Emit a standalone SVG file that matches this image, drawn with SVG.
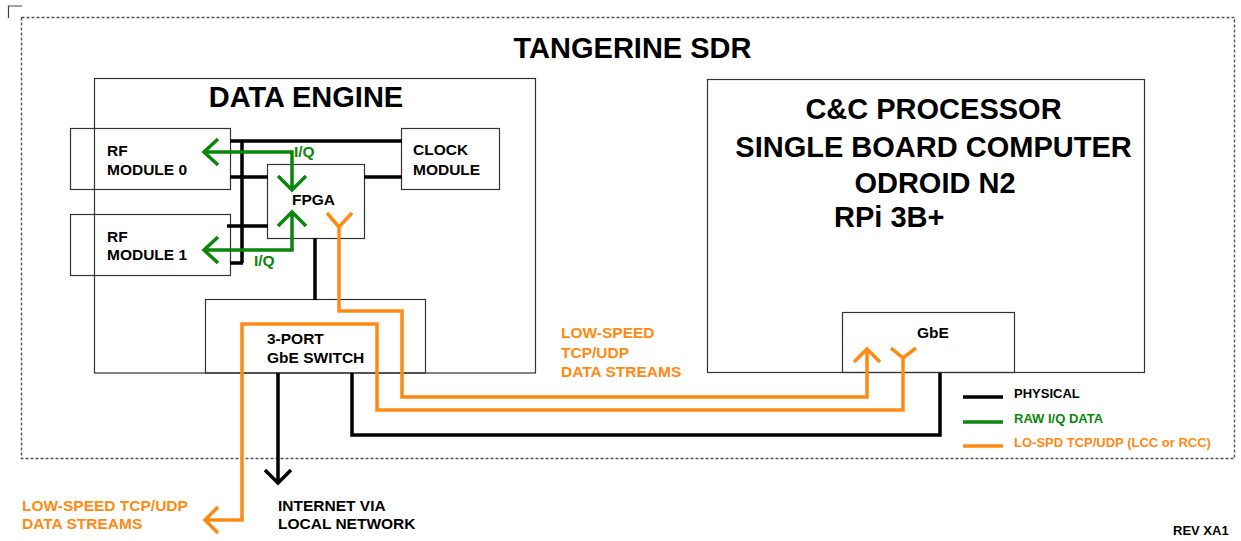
<svg xmlns="http://www.w3.org/2000/svg" width="1241" height="541" viewBox="0 0 1241 541">
<style>
text{font-family:"Liberation Sans",Arial,sans-serif;font-weight:bold;fill:#000}
.t29{font-size:29px}
.t15{font-size:15.5px}
.t13{font-size:13px}
.box{fill:none;stroke:#333;stroke-width:1.2}
.blk{fill:none;stroke:#000;stroke-width:3.5}
.grn{fill:none;stroke:#0a870a;stroke-width:3.5}
.org{fill:none;stroke:#ff8a12;stroke-width:3.5}
.gt{fill:#0a870a}
.ot{fill:#ff8a12}
</style>
<rect width="1241" height="541" fill="#fff"/>
<path d="M8.5,18 V6 H22" fill="none" stroke="#444" stroke-width="1.2"/>
<rect x="21.5" y="17.5" width="1213" height="441" fill="none" stroke="#555" stroke-width="1.4" stroke-dasharray="3,2"/>
<text class="t29" x="632.5" y="58" text-anchor="middle">TANGERINE SDR</text>

<g id="data-engine">
<rect class="box" x="94.5" y="78.5" width="441" height="294.5"/>
<text class="t29" x="306" y="107" text-anchor="middle">DATA ENGINE</text>
</g>
<g id="rf-module-0">
<rect class="box" x="70.5" y="128.5" width="160" height="61"/>
<text class="t15" x="107" y="156">RF</text>
<text class="t15" x="107" y="175">MODULE 0</text>
</g>
<g id="rf-module-1">
<rect class="box" x="70.5" y="214.5" width="160" height="61"/>
<text class="t15" x="107" y="242">RF</text>
<text class="t15" x="107" y="260">MODULE 1</text>
</g>
<g id="clock-module">
<rect class="box" x="401.5" y="128.5" width="98" height="61"/>
<text class="t15" x="413" y="155">CLOCK</text>
<text class="t15" x="413" y="175">MODULE</text>
</g>
<g id="fpga">
<rect class="box" x="267.5" y="164.5" width="97" height="74"/>
<text class="t15" x="292" y="205">FPGA</text>
</g>
<g id="gbe-switch">
<rect class="box" x="205.5" y="299.5" width="220" height="73.5"/>
<text class="t15" x="267" y="344">3-PORT</text>
<text class="t15" x="267" y="363">GbE SWITCH</text>
</g>
<g id="cc-processor">
<rect class="box" x="707.5" y="79.5" width="437" height="293"/>
<text class="t29" x="933.5" y="119" text-anchor="middle">C&amp;C PROCESSOR</text>
<text class="t29" x="933.5" y="157" text-anchor="middle">SINGLE BOARD COMPUTER</text>
<text class="t29" x="935" y="193" text-anchor="middle">ODROID N2</text>
<text class="t29" x="834" y="227">RPi 3B+</text>
</g>
<g id="gbe">
<rect class="box" x="842.5" y="312.5" width="172" height="60"/>
<text class="t15" x="917" y="338">GbE</text>
</g>

<g id="connectors">
<path class="blk" d="M230,141 H402 M242,141 V263 M230,263 H243 M230,177 H268 M227,226 H268 M364,177 H402"/>
<path class="blk" d="M315,238 V300"/>
<path class="blk" d="M278,373 V482 M265,470 L278,483 L291,470"/>
<path class="blk" d="M352,373 V435 H940 V373"/>
<path class="grn" d="M205,152 H292 V188 M278,176 L292,190 L306,176 M218,139 L204,152 L218,165"/>
<path class="grn" d="M205,250 H292 V214 M278,226 L292,212 L306,226 M218,237 L204,250 L218,263"/>
<text class="t15 gt" x="294" y="157">I/Q</text>
<text class="t15 gt" x="254" y="266">I/Q</text>
<path class="org" d="M327,213 L339,227 L352,213 M339,227 V311 H402 V397 H867 V350 M854,362 L867,349 L880,362"/>
<path class="org" d="M891,348 L903,358 L916,348 M903,358 V410 H377 V324 H242 V520 H206 M218,507 L205,520 L218,533"/>
<text class="t15 ot" x="561" y="338">LOW-SPEED</text>
<text class="t15 ot" x="561" y="358">TCP/UDP</text>
<text class="t15 ot" x="561" y="377">DATA STREAMS</text>
</g>

<g id="external">
<text class="t15 ot" x="22" y="511">LOW-SPEED TCP/UDP</text>
<text class="t15 ot" x="22" y="529">DATA STREAMS</text>
<text class="t15" x="278" y="511">INTERNET VIA</text>
<text class="t15" x="278" y="529">LOCAL NETWORK</text>
</g>

<g id="legend">
<path class="blk" d="M963,397 H1003"/>
<path class="grn" d="M963,422 H1003"/>
<path class="org" d="M963,446 H1003"/>
<text class="t13" x="1014" y="398">PHYSICAL</text>
<text class="t13 gt" x="1014" y="423">RAW I/Q DATA</text>
<text class="t13 ot" x="1014" y="447">LO-SPD TCP/UDP (LCC or RCC)</text>
</g>
<text class="t13" x="1173" y="535">REV XA1</text>
</svg>
